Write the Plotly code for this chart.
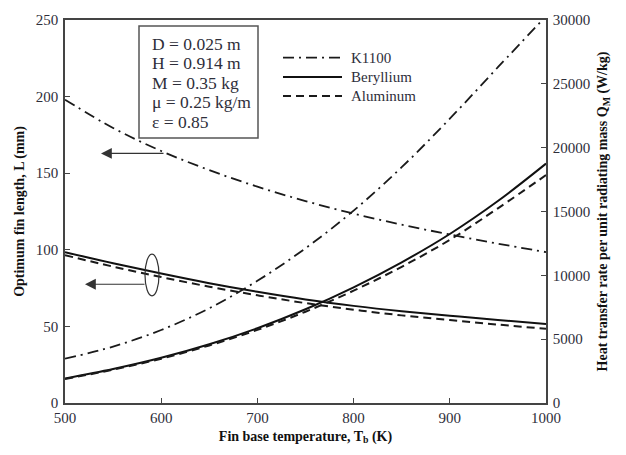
import plotly.graph_objects as go

# ---- data ----
T = [500, 550, 600, 650, 700, 750, 800, 850, 900, 950, 1000]

# Optimum fin length L (mm) - left axis
L_k1100 = [198, 179.5, 164.5, 152, 141.2, 131.8, 123.6, 116.4, 110, 104, 98.5]
L_beryllium = [98.5, 91.2, 84.5, 78.2, 72.6, 67.6, 63.4, 59.9, 57.0, 54.2, 51.6]
L_aluminum = [96.5, 89.0, 82.2, 75.9, 70.3, 65.2, 60.9, 57.2, 54.2, 51.2, 48.4]

# Heat transfer rate per unit radiating mass Q_M (W/kg) - right axis
Q_k1100 = [3470, 4420, 5720, 7420, 9570, 12120, 15070, 18470, 22270, 26300, 30300]
Q_beryllium = [1920, 2660, 3540, 4600, 5860, 7340, 9060, 11020, 13240, 15820, 18750]
Q_aluminum = [1880, 2610, 3470, 4510, 5730, 7150, 8800, 10670, 12780, 15250, 17850]

materials = ["K1100", "Beryllium", "Aluminum"]
info_lines = ["D = 0.025 m", "H = 0.914 m", "M = 0.35 kg", "\u03bc = 0.25 kg/m", "\u03b5 = 0.85"]

# ---- styles ----
FONT = "Liberation Serif"
TXT = "#2e2e3a"
AX = "#444444"
dash_k = "11px,5px,2px,5px"
dash_al = "8px,5px"
styles = {
    "K1100": dict(color="#1a1a1a", width=1.8, dash=dash_k),
    "Beryllium": dict(color="#111111", width=2.0, dash="solid"),
    "Aluminum": dict(color="#1a1a1a", width=2.0, dash=dash_al),
}
L_data = {"K1100": L_k1100, "Beryllium": L_beryllium, "Aluminum": L_aluminum}
Q_data = {"K1100": Q_k1100, "Beryllium": Q_beryllium, "Aluminum": Q_aluminum}

fig = go.Figure()
for m in materials:
    fig.add_trace(go.Scatter(x=T, y=L_data[m], mode="lines", name=m,
                             line=dict(shape="spline", smoothing=1.0, **styles[m]),
                             showlegend=False, yaxis="y"))
    fig.add_trace(go.Scatter(x=T, y=Q_data[m], mode="lines", name=m,
                             line=dict(shape="spline", smoothing=1.0, **styles[m]),
                             showlegend=False, yaxis="y2"))

W, H = 626, 455
ml, mr, mt, mb = 65, 80, 17, 52
pw, ph = W - ml - mr, H - mt - mb


def px(x):
    return (x - ml) / pw


def py(y):
    return (H - mb - y) / ph


shapes = []
annotations = []

# info box
shapes.append(dict(type="rect", xref="paper", yref="paper",
                   x0=px(139), x1=px(258), y0=py(136), y1=py(23),
                   line=dict(color="#555555", width=1.5), fillcolor="white", layer="below"))
for i, t in enumerate(info_lines):
    annotations.append(dict(text=t, xref="paper", yref="paper", x=px(150), y=py(41 + 19.7 * i),
                            xanchor="left", yanchor="middle", showarrow=False,
                            font=dict(family=FONT, size=17.5, color=TXT)))

# manual legend
leg_y = [55, 74.5, 93.5]
for m, yy in zip(materials, leg_y):
    st = styles[m]
    shapes.append(dict(type="line", xref="paper", yref="paper",
                       x0=px(283), x1=px(342), y0=py(yy), y1=py(yy),
                       line=dict(color=st["color"], width=st["width"], dash=st["dash"])))
    annotations.append(dict(text=m, xref="paper", yref="paper", x=px(349), y=py(yy),
                            xanchor="left", yanchor="middle", showarrow=False,
                            font=dict(family=FONT, size=15, color=TXT)))

# ellipse around the Be/Al L curves
shapes.append(dict(type="circle", xref="paper", yref="paper",
                   x0=px(145), x1=px(159), y0=py(295), y1=py(253),
                   line=dict(color="#333333", width=1.2)))

# arrows pointing to left axis
for hx, hy, tx in [(101, 151.5, 165), (85, 283.3, 146)]:
    annotations.append(dict(text="", xref="paper", yref="paper", x=px(hx), y=py(hy),
                            ax=tx - hx, ay=0, showarrow=True, arrowhead=2, arrowsize=1.8,
                            arrowwidth=1.2, arrowcolor="#333333"))

tickfont = dict(family=FONT, size=15, color=TXT)
titlefont = dict(family=FONT, size=14, color="#111111", weight="bold")

fig.update_layout(
    width=W, height=H,
    margin=dict(l=ml, r=mr, t=mt, b=mb, pad=0),
    plot_bgcolor="white", paper_bgcolor="white",
    showlegend=False,
    shapes=shapes, annotations=annotations,
    xaxis=dict(range=[500, 1000], dtick=100, tick0=500, ticks="inside", ticklen=5,
               tickcolor=AX, showline=True, linecolor=AX, linewidth=1.5, mirror=True,
               showgrid=False, zeroline=False, tickfont=tickfont,
               title=dict(text="<b>Fin base temperature, T<sub>b</sub> (K)</b>", font=titlefont, standoff=6)),
    yaxis=dict(range=[0, 250], dtick=50, ticks="inside", ticklen=5, tickcolor=AX,
               showline=True, linecolor=AX, linewidth=1.5, showgrid=False, zeroline=False,
               tickfont=tickfont, ticklabelstandoff=2,
               title=dict(text="<b>Optimum fin length, L (mm)</b>", font=titlefont, standoff=8)),
    yaxis2=dict(range=[0, 30000], dtick=5000, overlaying="y", side="right", ticks="inside",
                ticklen=5, tickcolor=AX, showline=True, linecolor=AX, linewidth=1.5,
                showgrid=False, zeroline=False, tickfont=tickfont, tickformat="d",
                ticklabelstandoff=2,
                title=dict(text="<b>Heat transfer rate per unit radiating mass Q<sub>M</sub> (W/kg)</b>",
                           font=titlefont, standoff=8)),
)

fig.write_html("out.html")
